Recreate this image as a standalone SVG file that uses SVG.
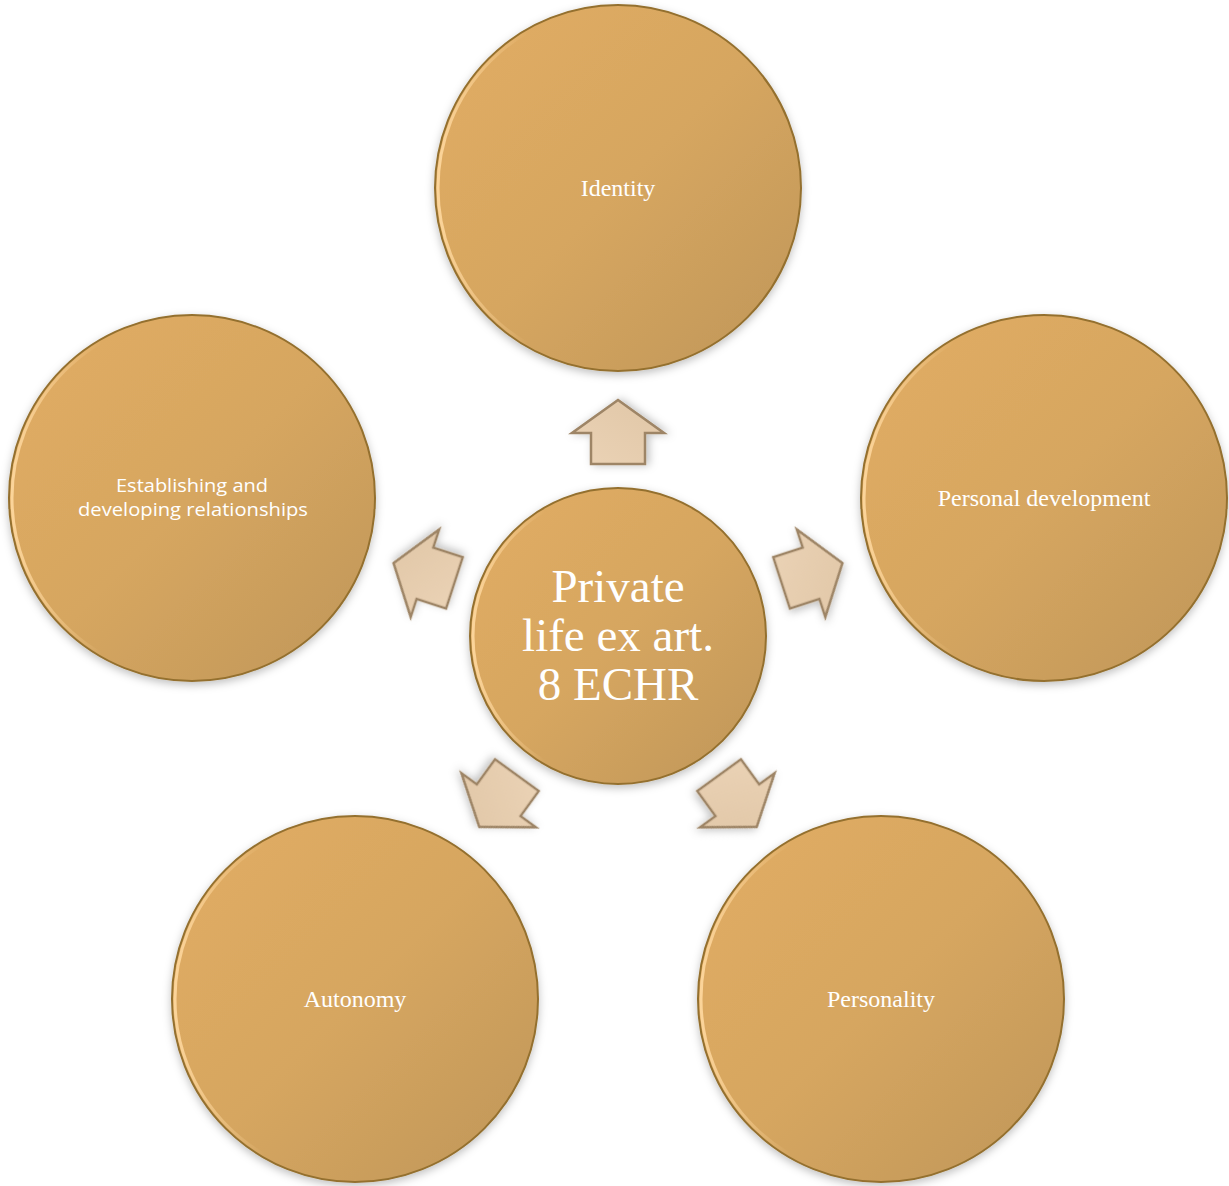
<svg xmlns="http://www.w3.org/2000/svg" width="1229" height="1186" viewBox="0 0 1229 1186">
<defs>
<linearGradient id="cg" x1="0" y1="0" x2="1" y2="1">
<stop offset="0" stop-color="#E2AD64"/>
<stop offset="0.5" stop-color="#D6A660"/>
<stop offset="1" stop-color="#BF9658"/>
</linearGradient>
<linearGradient id="hl" x1="0" y1="0" x2="1" y2="0">
<stop offset="0" stop-color="#FFD9A0" stop-opacity="0.9"/>
<stop offset="0.25" stop-color="#FFD9A0" stop-opacity="0"/>
</linearGradient>
<linearGradient id="ag" x1="0" y1="0" x2="1" y2="1">
<stop offset="0" stop-color="#EBD3B6"/>
<stop offset="1" stop-color="#E0C6A6"/>
</linearGradient>
<filter id="sh" x="-20%" y="-20%" width="140%" height="140%">
<feDropShadow dx="0" dy="3" stdDeviation="4" flood-color="#000" flood-opacity="0.25"/>
</filter>
<path id="arr" d="M-32,-27 L-1,-27 L-1,-46 L32,0 L-1,46 L-1,27 L-32,27 Z"/>
</defs>
<style>
.c{fill:url(#cg);stroke:#94702F;stroke-width:2;filter:url(#sh)}
.h{fill:none;stroke:url(#hl);stroke-width:3}
.a{fill:url(#ag);stroke:#9E8566;stroke-width:2.5;stroke-linejoin:miter;filter:url(#sh)}
.t{font-family:"Liberation Serif",serif;font-size:24px;fill:#fff;text-anchor:middle}
.s{font-family:"Open Sans","DejaVu Sans",sans-serif;font-size:19px;fill:#fff;text-anchor:middle}
.big{font-family:"Liberation Serif",serif;font-size:47px;fill:#fff;text-anchor:middle}
</style>
<rect width="1229" height="1186" fill="#fff"/>
<g id="connectors">
<use href="#arr" class="a" transform="translate(618,636) rotate(-90) translate(204,0)"/>
<use href="#arr" class="a" transform="translate(618,636) rotate(-18) translate(204,0)"/>
<use href="#arr" class="a" transform="translate(618,636) rotate(54) translate(204,0)"/>
<use href="#arr" class="a" transform="translate(618,636) rotate(126) translate(204,0)"/>
<use href="#arr" class="a" transform="translate(618,636) rotate(198) translate(204,0)"/>
</g>
<g id="center">
<circle class="c" cx="618" cy="636" r="148"/>
<circle class="h" cx="618" cy="636" r="145"/>
<text class="big" x="618" y="602">Private</text>
<text class="big" x="618" y="651">life ex art.</text>
<text class="big" x="618" y="700">8 ECHR</text>
</g>
<g id="identity">
<circle class="c" cx="618" cy="188" r="183"/>
<circle class="h" cx="618" cy="188" r="180"/>
<text class="t" x="618" y="196">Identity</text>
</g>
<g id="personal-development">
<circle class="c" cx="1044" cy="498" r="183"/>
<circle class="h" cx="1044" cy="498" r="180"/>
<text class="t" x="1044" y="506">Personal development</text>
</g>
<g id="personality">
<circle class="c" cx="881" cy="999" r="183"/>
<circle class="h" cx="881" cy="999" r="180"/>
<text class="t" x="881" y="1007">Personality</text>
</g>
<g id="autonomy">
<circle class="c" cx="355" cy="999" r="183"/>
<circle class="h" cx="355" cy="999" r="180"/>
<text class="t" x="355" y="1007">Autonomy</text>
</g>
<g id="relationships">
<circle class="c" cx="192" cy="498" r="183"/>
<circle class="h" cx="192" cy="498" r="180"/>
<text class="s" x="192" y="492" textLength="152" lengthAdjust="spacingAndGlyphs">Establishing and</text>
<text class="s" x="193" y="516" textLength="230" lengthAdjust="spacingAndGlyphs">developing relationships</text>
</g>
</svg>
